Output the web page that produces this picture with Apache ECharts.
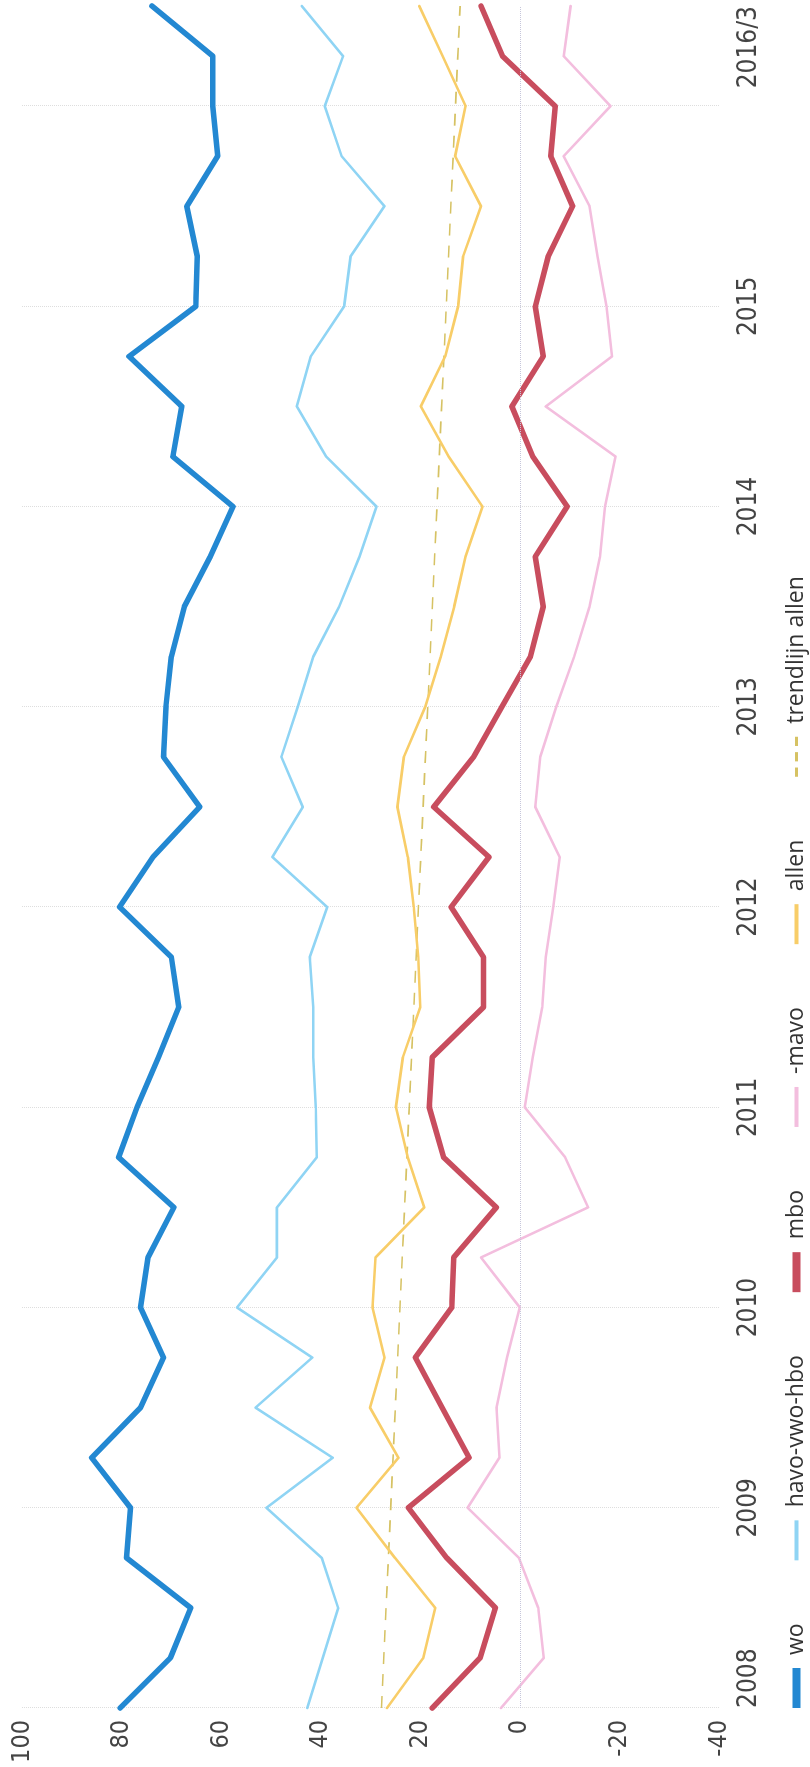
<!DOCTYPE html>
<html>
<head>
<meta charset="utf-8">
<script src="https://cdn.jsdelivr.net/npm/echarts@6/dist/echarts.min.js"></script>
<style>
  html, body { margin: 0; padding: 0; background: #fff; overflow: hidden; }
  #wrap { position: relative; width: 810px; height: 1767px; overflow: hidden; }
  #chart { position: absolute; left: 0; top: 0; width: 1767px; height: 810px;
           transform-origin: 0 0; transform: translate(0, 1767px) rotate(-90deg); }
</style>
</head>
<body>
<div id="wrap"><div id="chart"></div></div>
<script>
// quarters 2008 Q1 .. 2016 Q3
const categories = [
  '2008-1','2008-2','2008-3','2008-4',
  '2009-1','2009-2','2009-3','2009-4',
  '2010-1','2010-2','2010-3','2010-4',
  '2011-1','2011-2','2011-3','2011-4',
  '2012-1','2012-2','2012-3','2012-4',
  '2013-1','2013-2','2013-3','2013-4',
  '2014-1','2014-2','2014-3','2014-4',
  '2015-1','2015-2','2015-3','2015-4',
  '2016-1','2016-2','2016-3'
];
const tickIndex = [0, 4, 8, 12, 16, 20, 24, 28, 34];
const tickText  = ['2008','2009','2010','2011','2012','2013','2014','2015','2016/3'];
const gridIndex = [0, 4, 8, 12, 16, 20, 24, 28, 32];

const wo = [80.3, 70.2, 66.1, 79.0, 78.2, 86.0, 76.2, 71.6, 76.2, 74.7, 69.5, 80.6,
            76.9, 72.6, 68.5, 70.0, 80.4, 73.7, 64.3, 71.6, 71.1, 70.0, 67.4, 62.2,
            57.6, 69.7, 67.9, 78.5, 65.1, 64.8, 66.9, 60.7, 61.7, 61.7, 73.9];
const havo = [42.7, 39.6, 36.5, 39.8, 50.9, 37.6, 53.1, 41.7, 56.8, 48.8, 48.8, 40.8,
              41.0, 41.5, 41.5, 42.2, 38.7, 49.7, 43.6, 47.9, 44.6, 41.5, 36.3, 32.2,
              28.8, 38.9, 44.8, 42.0, 35.3, 34.0, 27.2, 35.8, 39.2, 35.5, 43.8];
const mbo = [17.6, 8.0, 4.9, 14.7, 22.4, 10.2, 15.6, 21.0, 13.7, 13.3, 4.7, 15.3,
             18.2, 17.6, 7.3, 7.3, 13.8, 6.2, 17.3, 9.3, 3.6, -2.1, -4.7, -3.1,
             -9.5, -2.6, 1.6, -4.7, -3.1, -5.7, -10.6, -6.2, -7.1, 3.5, 7.8];
const mavo = [3.8, -4.8, -3.7, 0.2, 10.5, 4.1, 4.7, 2.6, 0.0, 7.8, -13.7, -9.1,
              -1.0, -2.6, -4.5, -5.2, -6.7, -8.0, -3.1, -4.1, -7.3, -10.9, -14.0, -16.1,
              -17.1, -19.2, -5.2, -18.5, -17.4, -15.6, -14.0, -8.8, -18.2, -8.8, -10.2];
const allen = [26.7, 19.4, 17.0, 25.1, 32.8, 24.4, 30.1, 27.2, 29.6, 29.0, 19.2, 22.5,
               24.9, 23.5, 20.0, 20.4, 21.3, 22.5, 24.6, 23.3, 19.0, 15.9, 13.2, 10.9,
               7.5, 14.3, 19.9, 15.0, 12.4, 11.4, 7.8, 13.0, 10.9, 15.5, 20.2];
const trendAllen = [[0, 27.8], [34, 12.0]];

const names = ['wo', 'havo-vwo-hbo', 'mbo', '-mavo', 'allen', 'trendlijn allen'];
const colors = ['#2388d2', '#8fd4f4', '#c84d5e', '#f3bede', '#f8cd68', '#d6c263'];

const condensed = "'Liberation Sans Narrow', 'DejaVu Sans Condensed', 'Open Sans', sans-serif";
const thick = 'path://M0,0h40v8h-40z';
const thin = 'path://M0,0h40v4h-40z';
const dashed = 'path://M0,0h9v3h-9zM15,0h9v3h-9zM30,0h9v3h-9z';
const icons = [thick, thin, thick, thin, thin, dashed];

const chart = echarts.init(document.getElementById('chart'), null, { renderer: 'canvas' });

function line(name, data, color, width, extra) {
  return Object.assign({
    name, type: 'line', data, symbol: 'none', showSymbol: false,
    lineStyle: { color, width, cap: 'round', join: 'round' },
    itemStyle: { color }, animation: false
  }, extra || {});
}

chart.setOption({
  animation: false,
  backgroundColor: '#ffffff',
  grid: { left: 59, right: 6, top: 22, bottom: 91, containLabel: false, outerBoundsMode: 'none' },
  legend: {
    left: 59, top: 785, padding: 0,
    itemWidth: 40, itemHeight: 8, itemGap: 63,
    symbolKeepAspect: true,
    textStyle: { fontSize: 23, fontFamily: "'Open Sans', sans-serif", color: '#333', padding: [0, 0, 0, 8] },
    data: names.map((n, i) => ({ name: n, icon: icons[i] }))
  },
  xAxis: {
    type: 'category', data: categories, boundaryGap: false,
    axisLine: { show: false }, axisTick: { show: false },
    axisLabel: {
      interval: (idx) => tickIndex.includes(idx),
      formatter: (v, idx) => { const k = tickIndex.indexOf(idx); return k >= 0 ? tickText[k] : ''; },
      fontSize: 26, fontFamily: condensed, color: '#444', margin: 17,
      alignMinLabel: 'left', alignMaxLabel: 'right'
    },
    splitLine: {
      show: true,
      interval: (idx) => gridIndex.includes(idx),
      lineStyle: { color: '#dedede', type: 'dotted', width: 1 }
    }
  },
  yAxis: {
    type: 'value', min: -40, max: 100, interval: 20,
    axisLine: { show: false }, axisTick: { show: false }, splitLine: { show: false },
    axisLabel: { fontSize: 25, fontFamily: condensed, color: '#444', margin: 12 }
  },
  series: [
    line(names[5], trendAllen, colors[5], 1.6, { lineStyle: { color: colors[5], width: 1.6, type: [12, 10] }, z: 1,
      markLine: { silent: true, symbol: 'none', label: { show: false },
        lineStyle: { color: '#c6c6da', type: 'dotted', width: 1 }, data: [{ yAxis: 0 }] } }),
    line(names[3], mavo, colors[3], 2.6),
    line(names[4], allen, colors[4], 2.6),
    line(names[1], havo, colors[1], 2.6),
    line(names[2], mbo, colors[2], 5.5),
    line(names[0], wo, colors[0], 5.5)
  ]
});
</script>
</body>
</html>
